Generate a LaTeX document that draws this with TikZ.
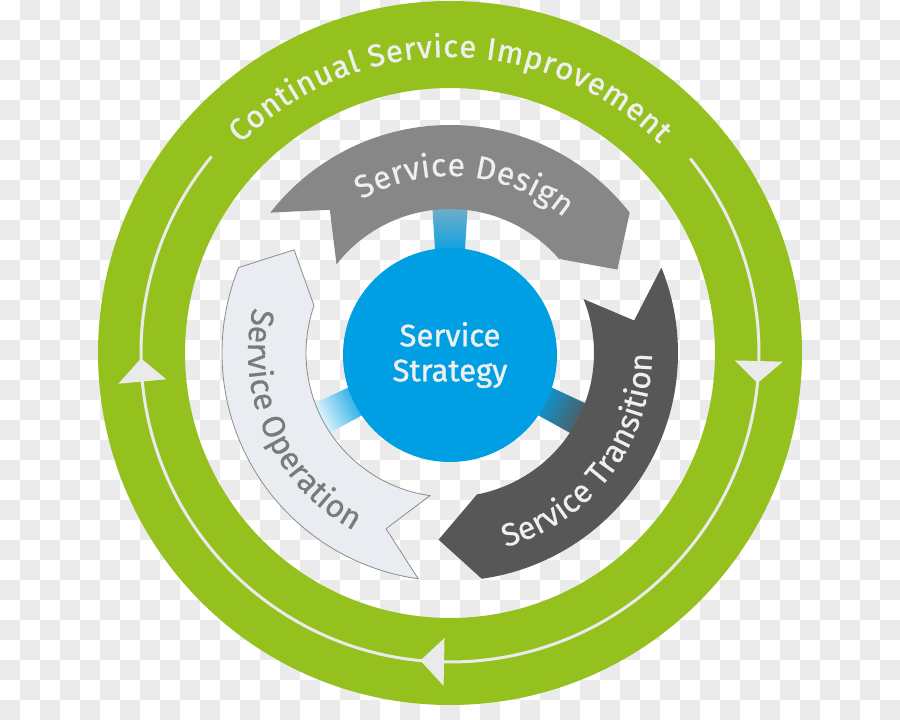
\documentclass[tikz,border=0pt]{standalone}
\usepackage{fontspec}
\setmainfont{Fira Sans}[FakeBold=0.5]
\newfontfamily\firamed{Fira Sans}[FakeBold=1.2]
\usetikzlibrary{decorations.text}
\definecolor{ckgray}{HTML}{EBEBEB}
\definecolor{ringgreen}{HTML}{95C11F}
\definecolor{ringline}{HTML}{EAEAEA}
\definecolor{stratblue}{HTML}{009FE3}
\definecolor{designgray}{HTML}{878787}
\definecolor{transgray}{HTML}{575757}
\definecolor{opfill}{HTML}{E9ECF1}
\definecolor{opline}{HTML}{8C8C8C}
\definecolor{optext}{HTML}{7A7A7A}
\definecolor{lighttext}{HTML}{EFEFEF}
\newcommand\ringfont{\firamed\fontsize{31}{38}\selectfont}
\newcommand\bandfont{\fontsize{32}{38}\selectfont}
\newcommand\bandpath{(142:228) arc[start angle=142,end angle=38,radius=228] -- (26.5:187) -- (40.8:144) arc[start angle=40.8,end angle=142,radius=144] -- (130:187) -- cycle}
\tikzset{
  ringarrow/.style={fill=ringline},
  arctext/.style={decorate, decoration={text along path, text align={fit to path}}},
}
\begin{document}
\begin{tikzpicture}[x=1pt,y=1pt]
\useasboundingbox (-450,-367) rectangle (450,353);
% checkerboard background
\fill[white] (-450,-367) rectangle (450,353);
\foreach \i in {0,...,44}{
  \foreach \j in {0,...,35}{
    \pgfmathtruncatemacro\ckodd{mod(\i+\j,2)}
    \ifnum\ckodd=1
      \fill[ckgray] ({20*\i-450},{353-20*\j}) rectangle ++(20,-20);
    \fi
  }
}
% outer ring
\fill[ringgreen, even odd rule] (0,0) circle (352) (0,0) circle (265);
\draw[ringline, line width=3] (140.5:309) arc[start angle=140.5, end angle=399, radius=309];
\fill[ringarrow] (181:309) -- (185.3:285) -- (185.3:333) -- cycle;
\fill[ringarrow] (-5.6:309) -- (-1.5:285) -- (-1.5:333) -- cycle;
\fill[ringarrow] (264.5:309) -- (268.9:285) -- (268.9:333) -- cycle;
\path[arctext, decoration={text color=lighttext, text={|\ringfont|Continual Service Improvement}}]
  (135:296) arc[start angle=135, end angle=45, radius=296];
% gradient connectors
\begin{scope}[transform canvas={rotate=90}]
  \shade[left color=stratblue, right color=stratblue!45!gray!70!white] (95,-14.5) -- (152,-18) -- (152,18) -- (95,14.5) -- cycle;
\end{scope}
\begin{scope}[transform canvas={rotate=207}]
  \shade[left color=stratblue, right color=white] (95,-15) -- (152,-17) -- (152,17) -- (95,15) -- cycle;
\end{scope}
\begin{scope}[transform canvas={rotate=-27}]
  \shade[left color=stratblue, right color=transgray] (95,-15) -- (152,-17) -- (152,17) -- (95,15) -- cycle;
\end{scope}
% centre
\node[circle, fill=stratblue, minimum size=214, inner sep=0, text=lighttext, align=center,
      font=\firamed\fontsize{31}{35}\selectfont] (strategy) at (0,-2) {Service\\Strategy};
% three arrows
\fill[designgray] \bandpath;
\begin{scope}[rotate=-120]
  \fill[transgray] \bandpath;
\end{scope}
\begin{scope}[rotate=-240]
  \filldraw[fill=opfill, draw=opline, line width=0.8] \bandpath;
\end{scope}
% band texts
\path[arctext, decoration={text color=lighttext, text={|\bandfont|Service Design}}]
  (120:177) arc[start angle=120, end angle=50, radius=177];
\path[arctext, decoration={text color=lighttext, text={|\bandfont|Service Transition}}]
  (-74:202) arc[start angle=-74, end angle=-0.6, radius=202];
\path[arctext, decoration={text color=optext, text={|\bandfont|Service Operation}}]
  (167:202) arc[start angle=167, end angle=241.5, radius=202];
\end{tikzpicture}
\end{document}
